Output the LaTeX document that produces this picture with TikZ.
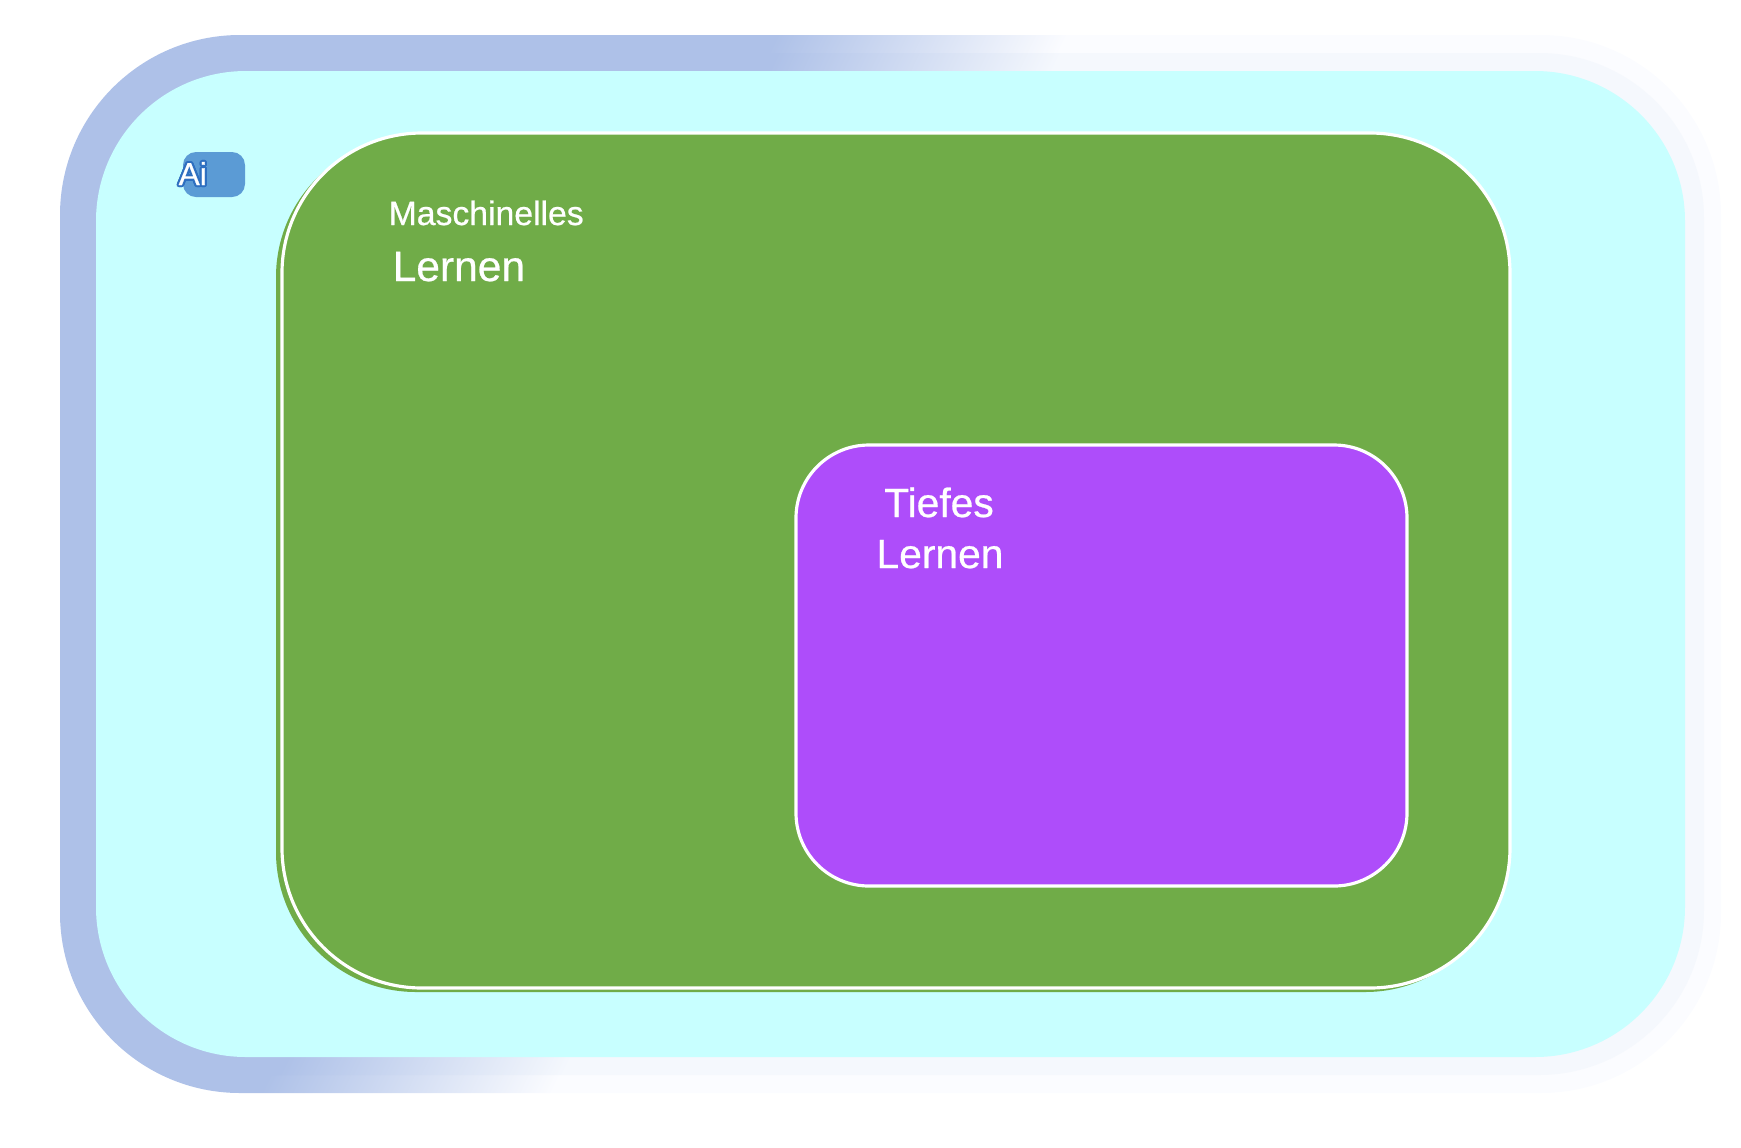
\documentclass[tikz,border=0pt]{standalone}
\usepackage{fontspec}
\setmainfont{Liberation Sans}[FakeBold=0.6]
\usetikzlibrary{positioning,calc}
\definecolor{frameblue}{HTML}{AEC1E8}
\definecolor{framewhite}{HTML}{F5F8FD}
\definecolor{framehalo}{HTML}{FBFCFF}
\definecolor{aicyan}{HTML}{C8FFFF}
\definecolor{mlgreen}{HTML}{70AC48}
\definecolor{dlpurple}{HTML}{AE4DFA}
\definecolor{aiblue}{HTML}{5B9BD5}
\definecolor{aiedge}{HTML}{2E6FC0}
\pgfdeclarehorizontalshading{frameshade}{100bp}{color(0bp)=(frameblue); color(38.5bp)=(frameblue); color(47.5bp)=(framewhite); color(100bp)=(framewhite)}
\pgfdeclarehorizontalshading{haloshade}{100bp}{color(0bp)=(frameblue); color(38.5bp)=(frameblue); color(47.5bp)=(framehalo); color(100bp)=(framehalo)}

\begin{document}
\begin{tikzpicture}[x = 0.1mm, y = -0.1mm,
  region/.style = {draw = white, line width = 0.9pt},
  label/.style = {text = white, inner sep = 0pt, anchor = base west}]
\useasboundingbox (0,0) rectangle (1741,1147);
% frame and AI area
\shade[shading = haloshade, shading angle = -26, rounded corners = 18mm] (60,35) rectangle (1721,1093);
\shade[shading = frameshade, shading angle = -26, rounded corners = 16.5mm] (78,53) rectangle (1704,1075);
\fill[aicyan, rounded corners = 15mm] (96,71) rectangle (1685,1057);
% machine learning
\fill[mlgreen, rounded corners = 14mm] (276,137) rectangle (1505,992);
\filldraw[region, fill = mlgreen, rounded corners = 14mm] (282,133) rectangle (1510,988);
% deep learning
\filldraw[region, fill = dlpurple, rounded corners = 7.3mm] (796,445) rectangle (1407,886);
% labels
\node[label, font = \fontsize{9.6}{11}\selectfont] (ml1) at (388,225) {Maschinelles};
\node[label, font = \fontsize{12.1}{14}\selectfont] (ml2) at (392,281) {Lernen};
\node[label, anchor = base, font = \fontsize{11.6}{14}\selectfont] (dl1) at (939,517) {Tiefes};
\node[label, anchor = base, font = \fontsize{11.6}{14}\selectfont] (dl2) at (940,568) {Lernen};
% AI tag
\fill[aiblue, rounded corners = 1.3mm] (183,152) rectangle (245,197);
\foreach \a in {0,30,...,330}
  \node[label, text = aiedge, font = \fontsize{9}{10}\selectfont] (aiedge\a) at ($(178,185)+(\a:0.6pt)$) {Ai};
\node[label, font = \fontsize{9}{10}\selectfont] (ai) at (178,185) {Ai};
\end{tikzpicture}
\end{document}
